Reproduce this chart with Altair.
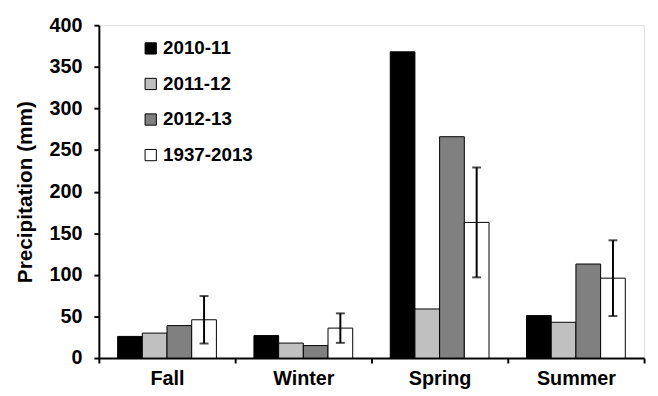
import altair as alt
import pandas as pd

seasons = ["Fall", "Winter", "Spring", "Summer"]
series = ["2010-11", "2011-12", "2012-13", "1937-2013"]
v_2010_11 = [26, 27, 368, 51]
v_2011_12 = [30, 18, 59, 43]
v_2012_13 = [39, 15, 266, 113]
v_1937_2013 = [46, 36, 163, 96]
err_1937_2013 = [28.5, 17.7, 66, 45.5]
fills = ["#000000", "#c0c0c0", "#808080", "#ffffff"]

rows = []
for s, vals in zip(series, [v_2010_11, v_2011_12, v_2012_13, v_1937_2013]):
    for season, v in zip(seasons, vals):
        rows.append({"season": season, "series": s, "value": v})
df = pd.DataFrame(rows)

err_df = pd.DataFrame({
    "season": seasons,
    "series": ["1937-2013"] * 4,
    "lo": [m - e for m, e in zip(v_1937_2013, err_1937_2013)],
    "hi": [m + e for m, e in zip(v_1937_2013, err_1937_2013)],
})

FONT = "Liberation Sans"

x_enc = alt.X("season:N", sort=seasons, title=None,
              scale=alt.Scale(paddingInner=0, paddingOuter=0),
              axis=alt.Axis(labelAngle=0, tickBand="extent", labelFont=FONT,
                            labelFontSize=20, labelFontWeight="bold", labelColor="#000",
                            labelPadding=6, tickSize=5, tickColor="#000", tickWidth=2,
                            domainColor="#000", domainWidth=2))
xo_enc = alt.XOffset("series:N", sort=series,
                     scale=alt.Scale(paddingInner=0, paddingOuter=0.76))

bars = alt.Chart(df).mark_bar(stroke="#000", strokeWidth=1).encode(
    x=x_enc,
    xOffset=xo_enc,
    y=alt.Y("value:Q", title="Precipitation (mm)",
            scale=alt.Scale(domain=[0, 400], nice=False),
            axis=alt.Axis(values=list(range(0, 401, 50)), grid=False,
                          labelFont=FONT, labelFontSize=20, labelFontWeight="bold",
                          labelColor="#000", labelPadding=12, tickSize=5,
                          tickColor="#000", tickWidth=2, domainColor="#000",
                          domainWidth=2, titleFont=FONT, titleFontSize=21,
                          titleFontWeight="bold", titleColor="#000",
                          titlePadding=14)),
    color=alt.Color("series:N", sort=series,
                    scale=alt.Scale(domain=series, range=fills),
                    legend=alt.Legend(title=None, orient="none", legendX=43,
                                      legendY=14, symbolType="square",
                                      symbolSize=130, symbolStrokeColor="#000",
                                      symbolStrokeWidth=1, labelFont=FONT,
                                      labelFontSize=19, labelFontWeight="bold",
                                      labelColor="#000", rowPadding=16,
                                      labelOffset=3, padding=0)),
)

rules = alt.Chart(err_df).mark_rule(color="#000", strokeWidth=2).encode(
    x=alt.X("season:N", sort=seasons),
    xOffset=alt.XOffset("series:N", sort=series),
    y="lo:Q",
    y2="hi:Q",
)
caps_hi = alt.Chart(err_df).mark_tick(color="#000", thickness=2, size=9).encode(
    x=alt.X("season:N", sort=seasons),
    xOffset=alt.XOffset("series:N", sort=series),
    y="hi:Q",
)
caps_lo = alt.Chart(err_df).mark_tick(color="#000", thickness=2, size=9).encode(
    x=alt.X("season:N", sort=seasons),
    xOffset=alt.XOffset("series:N", sort=series),
    y="lo:Q",
)

chart = alt.layer(bars, rules, caps_hi, caps_lo).properties(
    width=552, height=337,
    autosize=alt.AutoSizeParams(type="none"),
    padding={"left": 92, "top": 15, "right": 6, "bottom": 36},
).configure_view(stroke=None).configure(background="#ffffff")

chart.save("out.html", embed_options={"renderer": "svg", "actions": False})
